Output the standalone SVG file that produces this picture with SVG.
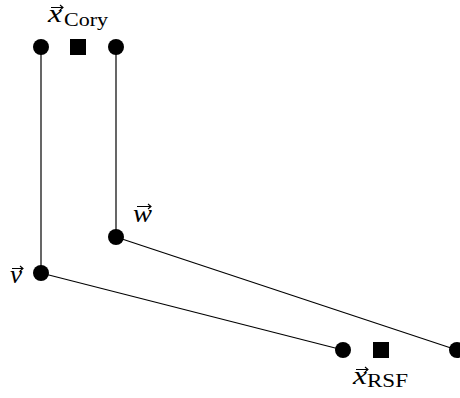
<svg xmlns="http://www.w3.org/2000/svg" width="460" height="398" viewBox="0 0 460 398">
<style>
.dot{fill:#000}
.sq{fill:#000}
.ln{stroke:#000;stroke-width:1.2;fill:none}
.var{font-family:"Liberation Serif",serif;font-style:italic;font-size:25px;fill:#000}
.sub{font-family:"Liberation Serif",serif;font-size:18px;fill:#000}
.vec{stroke:#000;stroke-width:1.1;fill:none}
</style>
<rect width="460" height="398" fill="#fff"/>
<g id="connectors">
<line class="ln" x1="41" y1="47" x2="41" y2="273"/>
<line class="ln" x1="116" y1="47" x2="116" y2="237"/>
<line class="ln" x1="41" y1="273" x2="343" y2="350"/>
<line class="ln" x1="116" y1="237" x2="457" y2="350"/>
</g>
<g id="n_top_left"><circle class="dot" cx="41" cy="47" r="8"/></g>
<g id="x_cory"><rect class="sq" x="70" y="39" width="16" height="16"/></g>
<g id="n_top_right"><circle class="dot" cx="116" cy="47" r="8"/></g>
<g id="w"><circle class="dot" cx="116" cy="237" r="8"/></g>
<g id="v"><circle class="dot" cx="41" cy="273" r="8"/></g>
<g id="n_bottom_left"><circle class="dot" cx="343" cy="350" r="8"/></g>
<g id="x_rsf"><rect class="sq" x="373" y="342" width="16" height="16"/></g>
<g id="n_bottom_right"><circle class="dot" cx="457" cy="350" r="8"/></g>
<g id="labels">
<text class="var" x="48" y="22" textLength="14" lengthAdjust="spacingAndGlyphs">x</text>
<path class="vec" d="M51 7.5H63M60 5L63 7.5L60 10"/>
<text class="sub" x="64" y="26" textLength="44" lengthAdjust="spacingAndGlyphs">Cory</text>
<text class="var" x="133" y="222" textLength="19" lengthAdjust="spacingAndGlyphs">w</text>
<path class="vec" d="M137 206.5H151M148 204L151 206.5L148 209"/>
<text class="var" x="10" y="283" textLength="12" lengthAdjust="spacingAndGlyphs">v</text>
<path class="vec" d="M12 268.5H23M20 266L23 268.5L20 271"/>
<text class="var" x="353" y="384" textLength="14" lengthAdjust="spacingAndGlyphs">x</text>
<path class="vec" d="M356 369.5H368M365 367L368 369.5L365 372"/>
<text class="sub" x="367" y="387" textLength="41" lengthAdjust="spacingAndGlyphs">RSF</text>
</g>
</svg>
